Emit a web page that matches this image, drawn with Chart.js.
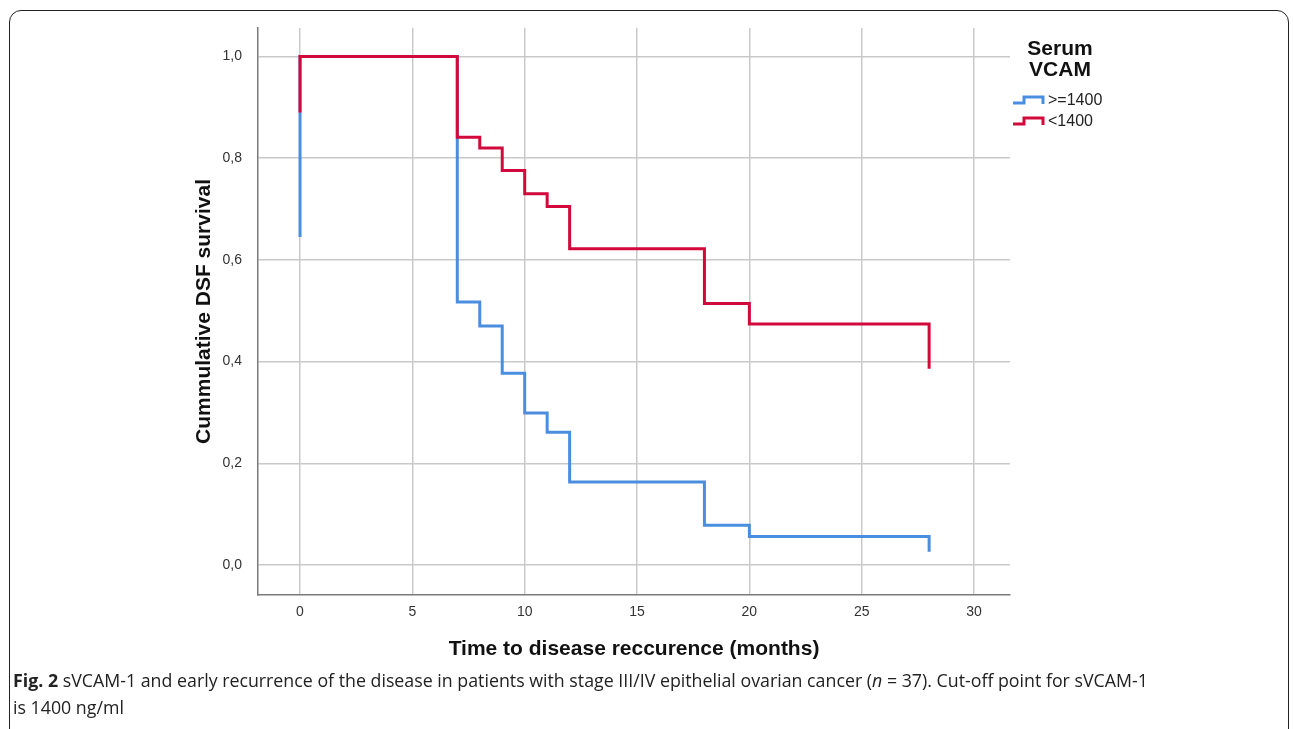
<!DOCTYPE html>
<html>
<head>
<meta charset="utf-8">
<script src="https://cdn.jsdelivr.net/npm/chart.js@4"></script>
<style>
  body { margin: 0; background: #fff; width: 1293px; height: 729px; overflow: hidden; position: relative; }
  #frame { position: absolute; left: 9px; top: 10px; width: 1280px; height: 740px;
           border: 1.5px solid #222; border-radius: 12px; box-sizing: border-box; }
  #wrap { position: absolute; left: 0; top: 0; width: 1293px; height: 670px; }
  #caption { position: absolute; left: 13px; top: 667px; font-family: "Open Sans", sans-serif;
             font-size: 17.8px; line-height: 27px; color: #222; white-space: nowrap; }
</style>
</head>
<body>
<div id="frame"></div>
<div id="wrap"><canvas id="myChart"></canvas></div>
<div id="caption"><b>Fig. 2</b> sVCAM-1 and early recurrence of the disease in patients with stage III/IV epithelial ovarian cancer (<i>n</i> = 37). Cut-off point for sVCAM-1<br>is 1400 ng/ml</div>
<script>
// Kaplan-Meier steps (time in months, cumulative survival)
let highTimes = [0, 0, 7, 8, 9, 10, 11, 12, 18, 20, 28, 28];
let highSurv = [0.645, 1.0, 0.517, 0.470, 0.377, 0.299, 0.261, 0.163, 0.078, 0.056, 0.056, 0.026];
let lowTimes = [0, 0, 7, 8, 9, 10, 11, 12, 18, 20, 28, 28];
let lowSurv = [0.89, 1.0, 0.841, 0.820, 0.776, 0.730, 0.705, 0.622, 0.514, 0.474, 0.474, 0.386];

let groupLabels = ['>=1400', '<1400'];
let groupColors = ['#4a8ee0', '#d20a3c'];
let xTicks = [0, 5, 10, 15, 20, 25, 30];
let yTicks = [0, 0.2, 0.4, 0.6, 0.8, 1.0];

function toPoints(t, s) {
    return t.map((v, i) => ({x: v, y: s[i]}));
}

const legendPlugin = {
    id: 'kmLegend',
    afterDraw(chart) {
        const c = chart.ctx;
        const x0 = chart.chartArea.right;
        c.save();
        c.fillStyle = '#111';
        c.font = 'bold 21px "Liberation Sans", Arial, sans-serif';
        c.textAlign = 'center';
        c.textBaseline = 'middle';
        c.fillText('Serum', x0 + 50, 49);
        c.fillText('VCAM', x0 + 50, 70);
        c.font = '16px "Liberation Sans", Arial, sans-serif';
        c.textAlign = 'left';
        groupLabels.forEach((lab, i) => {
            const y = 101 + i * 21;
            c.strokeStyle = groupColors[i];
            c.lineWidth = 3;
            c.lineJoin = 'miter';
            c.beginPath();
            c.moveTo(x0 + 3, y + 2);
            c.lineTo(x0 + 14, y + 2);
            c.lineTo(x0 + 14, y - 4);
            c.lineTo(x0 + 33, y - 4);
            c.lineTo(x0 + 33, y + 3);
            c.stroke();
            c.fillStyle = '#222';
            c.fillText(lab, x0 + 38, y);
        });
        c.restore();
    }
};

const ctx = document.getElementById('myChart');
const myChart = new Chart(ctx, {
    type: 'line',
    data: {
        datasets: [{
            label: groupLabels[0],
            data: toPoints(highTimes, highSurv),
            borderColor: groupColors[0],
            order: 1
        }, {
            label: groupLabels[1],
            data: toPoints(lowTimes, lowSurv),
            borderColor: groupColors[1],
            order: 0
        }]
    },
    options: {
        responsive: true,
        maintainAspectRatio: false,
        animation: false,
        layout: { padding: { left: 185, top: 28, right: 283, bottom: 0 } },
        elements: {
            line: { stepped: 'before', borderWidth: 3, borderJoinStyle: 'miter', borderCapStyle: 'butt', fill: false },
            point: { radius: 0 }
        },
        plugins: {
            legend: { display: false },
            tooltip: { enabled: false }
        },
        scales: {
            x: {
                type: 'linear',
                min: -1.87,
                max: 31.6,
                afterBuildTicks: s => { s.ticks = xTicks.map(v => ({value: v})); },
                afterFit: s => { s.height = 75; },
                grid: { color: '#c9c9c9', lineWidth: 1.5, drawTicks: false },
                border: { color: '#7a7a7a', width: 1.5 },
                ticks: { color: '#333', padding: 9, font: { family: '"Liberation Sans", Arial, sans-serif', size: 14 } },
                title: {
                    display: true,
                    text: 'Time to disease reccurence (months)',
                    color: '#111',
                    padding: { top: 0, bottom: 8 },
                    font: { family: '"Liberation Sans", Arial, sans-serif', size: 21, weight: 'bold' }
                }
            },
            y: {
                min: -0.059,
                max: 1.056,
                afterBuildTicks: s => { s.ticks = yTicks.map(v => ({value: v})); },
                afterFit: s => { s.width = 73; },
                grid: { color: '#c9c9c9', lineWidth: 1.5, drawTicks: false },
                border: { color: '#7a7a7a', width: 1.5 },
                ticks: {
                    color: '#333',
                    padding: 16,
                    font: { family: '"Liberation Sans", Arial, sans-serif', size: 14 },
                    callback: v => v.toFixed(1).replace('.', ',')
                },
                title: {
                    display: true,
                    text: 'Cummulative DSF survival',
                    color: '#111',
                    padding: { top: 7, bottom: 0 },
                    font: { family: '"Liberation Sans", Arial, sans-serif', size: 21, weight: 'bold' }
                }
            }
        }
    },
    plugins: [legendPlugin]
});
</script>
</body>
</html>
